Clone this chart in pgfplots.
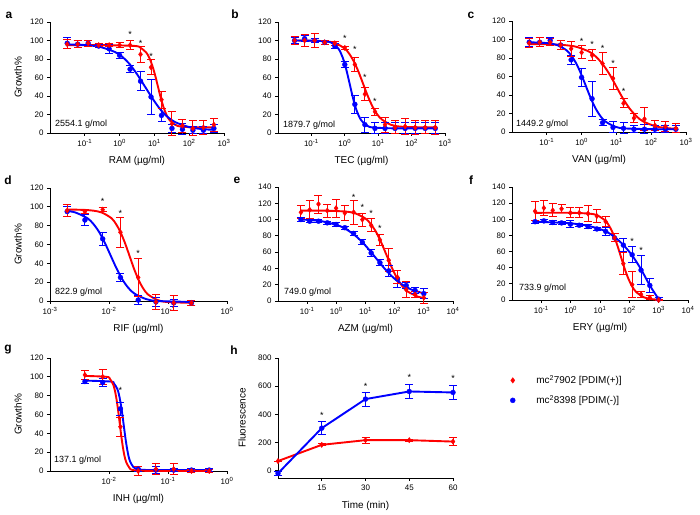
\documentclass[border=0pt]{standalone}
\usepackage{fontspec}
\setmainfont{Liberation Sans}
\usepackage{pgfplots}
\pgfplotsset{compat=1.18}
\definecolor{pred}{RGB}{255,0,0}
\definecolor{pblue}{RGB}{0,0,255}
\newcommand{\tp}[1]{10\textsuperscript{#1}}
\pgfplotsset{
  panel/.style={
    scale only axis, anchor=south west,
    axis lines=left, axis line style={-, line width=0.9bp},
    tick style={line width=0.9bp, black},
    tick align=outside, major tick length=3bp,
    clip=false,
    tick label style={font=\fontsize{8}{9.6}\selectfont},
    label style={font=\fontsize{10}{12}\selectfont},
    /pgf/number format/assume math mode=true,
    xlabel style={at={(axis description cs:0.5,0)}, anchor=center, yshift=-28bp},
  },
  gl/.style={ylabel={Growth\%}, ylabel style={at={(axis description cs:#1,0.5)}, anchor=center}},
  rc/.style={pred, line width=1.9bp, smooth, no markers},
  bc/.style={pblue, line width=1.9bp, smooth, no markers},
  rp/.style={only marks, pred, mark=diamond*, mark size=2.7bp, mark options={fill=pred, draw=pred, line width=0.3bp},
     error bars/.cd, y dir=both, y explicit, error mark=|, error bar style={line width=1bp, pred}, error mark options={line width=1bp, pred, mark size=4bp}},
  bp/.style={only marks, pblue, mark=*, mark size=2.5bp, mark options={fill=pblue, draw=pblue, line width=0.3bp},
     error bars/.cd, y dir=both, y explicit, error mark=|, error bar style={line width=1bp, pblue}, error mark options={line width=1bp, pblue, mark size=4bp}},
}
\tikzset{
  st/.style={font=\fontsize{9}{10}\selectfont, inner sep=0pt, yshift=-2bp},
  mw/.style={font=\fontsize{9}{10.8}\selectfont, anchor=west, inner sep=0pt},
  pl/.style={font=\bfseries\fontsize{12}{14}\selectfont, inner sep=0pt},
}
\begin{document}
\begin{tikzpicture}[x=1bp,y=1bp]
\useasboundingbox (0bp,0bp) rectangle (700bp,515bp);
% ---------------- a
\begin{axis}[panel, at={(50bp,382bp)}, width=174bp, height=111bp, xmin=-2, xmax=3, ymin=0, ymax=120,
  xtick={-1,0,1,2,3}, xticklabels={\tp{-1},\tp{0},\tp{1},\tp{2},\tp{3}}, ytick={0,20,...,120},
  xlabel={RAM (µg/ml)}, gl=-0.184]
\addplot[rc] coordinates {(-1.505,95) (-0.5,95) (0.433,94.1) (0.6,92.2) (0.767,86.9) (0.85,81.6) (0.933,73.6) (1.017,63) (1.1,50.5) (1.183,38) (1.267,27.4) (1.35,19.4) (1.433,14.1) (1.6,8.8) (1.767,6.9) (2.2,6.1) (2.709,6)};
\addplot[bc] coordinates {(-1.505,95.8) (-1.0,95.1) (-0.565,93.1) (-0.13,87.5) (0.087,82) (0.305,73.7) (0.52,62.5) (0.74,49.5) (0.96,36.5) (1.175,25.3) (1.39,17) (1.61,11.5) (2.045,5.9) (2.48,3.9) (2.709,3.5)};
\addplot[bp] table[x=x,y=y,y error=e,row sep=\\]{x y e\\ -1.505 97 6\\ -1.204 96 4\\ -0.903 97 3\\ -0.602 94 2\\ -0.301 91 5\\ 0 84 3\\ 0.301 69 4\\ 0.602 56 10\\ 0.903 39 19\\ 1.204 19 7\\ 1.505 5 4\\ 1.806 4 6\\ 2.107 3 4\\ 2.408 3 4\\ 2.709 5 4\\};
\addplot[rp] table[x=x,y=y,y error=e,row sep=\\]{x y e\\ -1.505 96 5\\ -1.204 96 4\\ -0.903 97 3\\ -0.602 95 2\\ -0.301 95 2\\ 0 95 3\\ 0.301 95 5\\ 0.602 85 9\\ 0.903 71 8\\ 1.204 36 9\\ 1.505 10 13\\ 1.806 8 7\\ 2.107 5 8\\ 2.408 6 8\\ 2.709 9 7\\};
\node[st] at (axis cs:0.301,109) {*};
\node[st] at (axis cs:0.602,99) {*};
\node[st] at (axis cs:0.903,85) {*};
\node[mw, xshift=5bp, yshift=9bp] at (rel axis cs:0,0) {2554.1 g/mol};
\end{axis}
% ---------------- b
\begin{axis}[panel, at={(278bp,382bp)}, width=167bp, height=111bp, xmin=-2, xmax=3, ymin=0, ymax=120,
  xtick={-1,0,1,2,3}, xticklabels={\tp{-1},\tp{0},\tp{1},\tp{2},\tp{3}}, ytick={0,20,...,120},
  xlabel={TEC (µg/ml)}]
\addplot[rc] coordinates {(-1.505,100) (-1.0,99.7) (-0.56,99.1) (-0.28,97.1) (-0.006,91.4) (0.13,85.8) (0.27,77.4) (0.41,66.2) (0.55,53) (0.69,39.8) (0.83,28.6) (0.97,20.2) (1.11,14.6) (1.38,8.9) (1.66,6.9) (2.2,6.1) (2.709,6)};
\addplot[bc] coordinates {(-1.505,100) (-1.0,99.8) (-0.54,99) (-0.37,97) (-0.195,91.4) (-0.11,85.7) (-0.02,77.2) (0.064,65.8) (0.15,52.5) (0.236,39.2) (0.32,27.8) (0.41,19.3) (0.495,13.6) (0.67,7.9) (0.84,6) (1.5,5) (2.709,5)};
\addplot[bp] table[x=x,y=y,y error=e,row sep=\\]{x y e\\ -1.505 100 3\\ -1.204 102 3\\ -0.903 100 2\\ -0.602 98 2\\ -0.301 94 3\\ 0 74 3\\ 0.301 31 10\\ 0.602 9 8\\ 0.903 5 6\\ 1.204 5 6\\ 1.505 5 6\\ 1.806 5 6\\ 2.107 5 6\\ 2.408 5 6\\ 2.709 5 6\\};
\addplot[rp] table[x=x,y=y,y error=e,row sep=\\]{x y e\\ -1.505 100 4\\ -1.204 100 6\\ -0.903 100 8\\ -0.602 98 2\\ -0.301 97 2\\ 0 92 2\\ 0.301 74 8\\ 0.602 42 7\\ 0.903 23 4\\ 1.204 9 8\\ 1.505 6 7\\ 1.806 7 9\\ 2.107 6 8\\ 2.408 6 7\\ 2.709 6 8\\};
\node[st] at (axis cs:0,104) {*};
\node[st] at (axis cs:0.301,93) {*};
\node[st] at (axis cs:0.602,62) {*};
\node[st] at (axis cs:0.903,36) {*};
\node[mw, xshift=5bp, yshift=8bp] at (rel axis cs:0,0) {1879.7 g/mol};
\end{axis}
% ---------------- c
\begin{axis}[panel, at={(512bp,383bp)}, width=174bp, height=111bp, xmin=-2, xmax=3, ymin=0, ymax=120,
  xtick={-1,0,1,2,3}, xticklabels={\tp{-1},\tp{0},\tp{1},\tp{2},\tp{3}}, ytick={0,20,...,120},
  xlabel={VAN (µg/ml)}]
\addplot[rc] coordinates {(-1.505,95) (-1.0,94.8) (-0.54,94.1) (-0.15,92.1) (0.23,86.6) (0.42,81.1) (0.615,72.9) (0.81,61.9) (1.0,49) (1.19,36.1) (1.385,25.1) (1.58,16.9) (1.77,11.4) (2.15,5.9) (2.54,3.9) (2.709,3.5)};
\addplot[bc] coordinates {(-1.505,97) (-0.99,96.1) (-0.71,94.1) (-0.436,88.4) (-0.3,82.8) (-0.158,74.4) (-0.02,63.2) (0.12,50) (0.26,36.8) (0.4,25.6) (0.54,17.2) (0.676,11.6) (0.95,5.9) (1.23,3.9) (2.0,3.05) (2.709,3)};
\addplot[bp] table[x=x,y=y,y error=e,row sep=\\]{x y e\\ -1.505 97 5\\ -1.204 97 5\\ -0.903 99 3\\ -0.602 94 5\\ -0.301 78 5\\ 0 59 10\\ 0.301 36 19\\ 0.602 10 3\\ 0.903 5 6\\ 1.204 4 6\\ 1.505 3 4\\ 1.806 3 5\\ 2.107 3 4\\ 2.408 3 4\\ 2.709 3 4\\};
\addplot[rp] table[x=x,y=y,y error=e,row sep=\\]{x y e\\ -1.505 96 5\\ -1.204 97 5\\ -0.903 97 4\\ -0.602 94 5\\ -0.301 90 8\\ 0 86 7\\ 0.301 83 6\\ 0.602 74 12\\ 0.903 58 12\\ 1.204 31 5\\ 1.505 15 5\\ 1.806 14 12\\ 2.107 7 5\\ 2.408 6 5\\ 2.709 4 5\\};
\node[st] at (axis cs:0,100) {*};
\node[st] at (axis cs:0.301,97) {*};
\node[st] at (axis cs:0.602,93) {*};
\node[st] at (axis cs:0.903,76) {*};
\node[st] at (axis cs:1.204,46) {*};
\node[mw, xshift=4bp, yshift=8bp] at (rel axis cs:0,0) {1449.2 g/mol};
\end{axis}
% ---------------- d
\begin{axis}[panel, at={(50bp,214bp)}, width=177bp, height=113bp, xmin=-3, xmax=0, ymin=0, ymax=120,
  xtick={-3,-2,-1,0}, xticklabels={\tp{-3},\tp{-2},\tp{-1},\tp{0}}, ytick={0,20,...,120},
  xlabel={RIF (µg/ml)}, gl=-0.181]
\addplot[rc] coordinates {(-2.709,97) (-2.5,96.9) (-2.275,96) (-2.12,93.9) (-1.96,88) (-1.884,82) (-1.806,73.2) (-1.728,61.4) (-1.65,47.5) (-1.572,33.6) (-1.494,21.8) (-1.416,12.9) (-1.34,7) (-1.18,1.1) (-1.025,-1) (-0.602,-2)};
\addplot[bc] coordinates {(-2.709,95.6) (-2.57,94) (-2.37,88.1) (-2.27,82.2) (-2.17,73.5) (-2.07,61.7) (-1.97,48) (-1.87,34.3) (-1.77,22.5) (-1.67,13.8) (-1.57,7.9) (-1.37,2) (-1.17,0) (-0.602,-1)};
\addplot[bp] table[x=x,y=y,y error=e,row sep=\\]{x y e\\ -2.709 95 5\\ -2.408 86 6\\ -2.107 66 7\\ -1.806 25 4\\ -1.505 1 5\\ -1.204 -1 5\\ -0.903 -2 4\\ -0.602 -2 3\\};
\addplot[rp] table[x=x,y=y,y error=e,row sep=\\]{x y e\\ -2.709 96 6\\ -2.408 95 2\\ -2.107 97 2\\ -1.806 73 16\\ -1.505 25 20\\ -1.204 -1 8\\ -0.903 -2 8\\ -0.602 -2 3\\};
\node[st] at (axis cs:-2.107,107.6) {*};
\node[st] at (axis cs:-1.806,95) {*};
\node[st] at (axis cs:-1.505,53) {*};
\node[mw, xshift=5bp, yshift=9bp] at (rel axis cs:0,0) {822.9 g/mol};
\end{axis}
% ---------------- e
\begin{axis}[panel, at={(278bp,214bp)}, width=175bp, height=114bp, xmin=-2, xmax=4, ymin=0, ymax=140,
  xtick={-1,0,1,2,3,4}, xticklabels={\tp{-1},\tp{0},\tp{1},\tp{2},\tp{3},\tp{4}}, ytick={0,20,...,140},
  xlabel={AZM (µg/ml)}]
\addplot[rc] coordinates {(-1.214,111) (-0.5,111) (0.29,109.9) (0.65,107.6) (1.006,101.1) (1.18,94.5) (1.363,84.8) (1.54,71.8) (1.72,56.5) (1.9,41.2) (2.077,28.2) (2.256,18.5) (2.434,11.9) (2.79,5.4) (3.0,3.7)};
\addplot[bc] coordinates {(-1.214,100.1) (-0.525,98.1) (0.1,92.3) (0.41,86.5) (0.725,78) (1.04,66.4) (1.35,53) (1.66,39.6) (1.975,28) (2.29,19.5) (2.6,13.7) (3.0,9.4)};
\addplot[bp] table[x=x,y=y,y error=e,row sep=\\]{x y e\\ -1.214 100 2\\ -0.913 98 2\\ -0.612 98 2\\ -0.311 96 2\\ -0.010 94 2\\ 0.291 90 2\\ 0.592 83 2\\ 0.893 72 3\\ 1.194 59 4\\ 1.495 47 4\\ 1.796 37 7\\ 2.097 27 10\\ 2.398 19 4\\ 2.699 13 4\\ 3.0 9 6\\};
\addplot[rp] table[x=x,y=y,y error=e,row sep=\\]{x y e\\ -1.214 109 8\\ -0.913 112 11\\ -0.612 119 11\\ -0.311 111 8\\ -0.010 114 11\\ 0.291 108 9\\ 0.592 109 15\\ 0.893 100 8\\ 1.194 93 8\\ 1.495 75 7\\ 1.796 50 14\\ 2.097 29 8\\ 2.398 14 10\\ 2.699 8 4\\ 3.0 4 7\\};
\node[st] at (axis cs:0.592,130) {*};
\node[st] at (axis cs:0.893,117) {*};
\node[st] at (axis cs:1.194,110) {*};
\node[st] at (axis cs:1.495,91) {*};
\node[mw, xshift=6bp, yshift=9bp] at (rel axis cs:0,0) {749.0 g/mol};
\end{axis}
% ---------------- f
\begin{axis}[panel, at={(512bp,215bp)}, width=176bp, height=113bp, xmin=-2, xmax=4, ymin=0, ymax=140,
  xtick={-1,0,1,2,3,4}, xticklabels={\tp{-1},\tp{0},\tp{1},\tp{2},\tp{3},\tp{4}}, ytick={0,20,...,140},
  xlabel={ERY (µg/ml)}]
\addplot[rc] coordinates {(-1.214,108) (0.0,108) (0.66,106.9) (0.92,104.7) (1.184,98.2) (1.315,91.7) (1.447,82.1) (1.578,69.1) (1.71,54) (1.84,38.9) (1.973,25.9) (2.105,16.3) (2.236,9.8) (2.5,3.3) (2.76,1.1) (3.0,0.4)};
\addplot[bc] coordinates {(-1.214,97) (-0.5,96) (0,95) (0.5,92.5) (0.9,89) (1.2,85) (1.5,78) (1.8,68) (2.1,55) (2.4,38) (2.7,18) (3.0,1)};
\addplot[bp] table[x=x,y=y,y error=e,row sep=\\]{x y e\\ -1.214 97 2\\ -0.913 98 2\\ -0.612 96 2\\ -0.311 95.5 2\\ -0.010 94 4\\ 0.291 92.6 2\\ 0.592 91 2\\ 0.893 88 2\\ 1.194 85 5\\ 1.495 77 5\\ 1.796 68 8\\ 2.097 56 10\\ 2.398 37 18\\ 2.699 18 9\\ 3.0 1 2\\};
\addplot[rp] table[x=x,y=y,y error=e,row sep=\\]{x y e\\ -1.214 110 12\\ -0.913 114 9\\ -0.612 111 8\\ -0.311 113 5\\ -0.010 108 6\\ 0.291 108 6\\ 0.592 107 10\\ 0.893 104 8\\ 1.194 97 6\\ 1.495 77 5\\ 1.796 45 14\\ 2.097 19 16\\ 2.398 7 4\\ 2.699 3 2\\ 3.0 0 1\\};
\node[st] at (axis cs:2.097,75) {*};
\node[st] at (axis cs:2.398,64) {*};
\node[mw, xshift=7bp, yshift=12bp] at (rel axis cs:0,0) {733.9 g/mol};
\end{axis}
% ---------------- g
\begin{axis}[panel, at={(50bp,44bp)}, width=177bp, height=113bp, xmin=-3, xmax=0, ymin=0, ymax=120,
  xtick={-2,-1,0}, xticklabels={\tp{-2},\tp{-1},\tp{0}}, ytick={0,20,...,120},
  xlabel={INH (µg/ml)}, gl=-0.181]
\addplot[bc] coordinates {(-2.408,96) (-1.972,95) (-1.917,93) (-1.861,87.4) (-1.833,81.7) (-1.806,73.2) (-1.778,61.8) (-1.75,48.5) (-1.722,35.2) (-1.694,23.8) (-1.667,15.3) (-1.639,9.6) (-1.583,3.9) (-1.528,2) (-1.3,1) (-0.301,1)};
\addplot[rc] coordinates {(-2.408,101) (-2.04,100) (-1.985,97.9) (-1.929,91.8) (-1.901,85.7) (-1.874,76.8) (-1.846,64.6) (-1.818,50.5) (-1.79,36.4) (-1.762,24.2) (-1.735,15.3) (-1.707,9.2) (-1.651,3.1) (-1.596,1) (-1.3,0.1) (-0.301,0)};
\addplot[bp] table[x=x,y=y,y error=e,row sep=\\]{x y e\\ -2.408 95 2\\ -2.107 94 4\\ -1.806 66 7\\ -1.505 2 3\\ -1.204 1 4\\ -0.903 1 2\\ -0.602 1 2\\ -0.301 1 2\\};
\addplot[rp] table[x=x,y=y,y error=e,row sep=\\]{x y e\\ -2.408 102 5\\ -2.107 100 8\\ -1.806 47 10\\ -1.505 0 5\\ -1.204 2 6\\ -0.903 2 6\\ -0.602 0 2\\ -0.301 0 2\\};
\node[st] at (axis cs:-1.806,88) {*};
\node[mw, xshift=4bp, yshift=11bp] at (rel axis cs:0,0) {137.1 g/mol};
\end{axis}
% ---------------- h
\begin{axis}[panel, at={(278bp,37bp)}, width=175bp, height=120bp, xmin=0, xmax=60, ymin=-50, ymax=800,
  xtick={15,30,45,60}, ytick={0,200,...,800},
  xlabel={Time (min)}, ylabel={Fluorescence}, ylabel style={at={(axis description cs:-0.206,0.5)}, anchor=center},
  legend style={draw=none, fill=none, at={(axis description cs:1.309,0.89)}, anchor=north west,
    font=\fontsize{10}{12}\selectfont, row sep=6bp, /tikz/every odd column/.append style={column sep=19bp}},
  legend cell align=left]
\addlegendimage{only marks, mark=diamond*, pred, mark size=2.7bp}
\addlegendentry{mc\textsuperscript{2}7902 [PDIM(+)]}
\addlegendimage{only marks, mark=*, pblue, mark size=2.5bp}
\addlegendentry{mc\textsuperscript{2}8398 [PDIM(-)]}
\addplot[forget plot, pred, line width=1.9bp, mark=diamond*, mark size=2.7bp, mark options={fill=pred, draw=pred, line width=0.3bp},
  error bars/.cd, y dir=both, y explicit, error mark=|, error bar style={line width=1bp, pred}, error mark options={line width=1bp, pred, mark size=4bp}]
  table[x=x,y=y,y error=e,row sep=\\]{x y e\\ 0 70 0\\ 15 185 8\\ 30 218 22\\ 45 218 8\\ 60 208 28\\};
\addplot[forget plot, pblue, line width=1.9bp, mark=*, mark size=2.5bp, mark options={fill=pblue, draw=pblue, line width=0.3bp},
  error bars/.cd, y dir=both, y explicit, error mark=|, error bar style={line width=1bp, pblue}, error mark options={line width=1bp, pblue, mark size=4bp}]
  table[x=x,y=y,y error=e,row sep=\\]{x y e\\ 0 -17 12\\ 15 303 45\\ 30 509 50\\ 45 563 50\\ 60 556 47\\};
\node[st] at (axis cs:15,405) {*};
\node[st] at (axis cs:30,615) {*};
\node[st] at (axis cs:45,675) {*};
\node[st] at (axis cs:60,670) {*};
\end{axis}
% panel letters
\node[pl] at (9,500) {a};
\node[pl] at (235,501) {b};
\node[pl] at (471,500) {c};
\node[pl] at (8,335) {d};
\node[pl] at (237,335) {e};
\node[pl] at (471,335) {f};
\node[pl] at (8,165) {g};
\node[pl] at (234,165) {h};
\end{tikzpicture}
\end{document}
